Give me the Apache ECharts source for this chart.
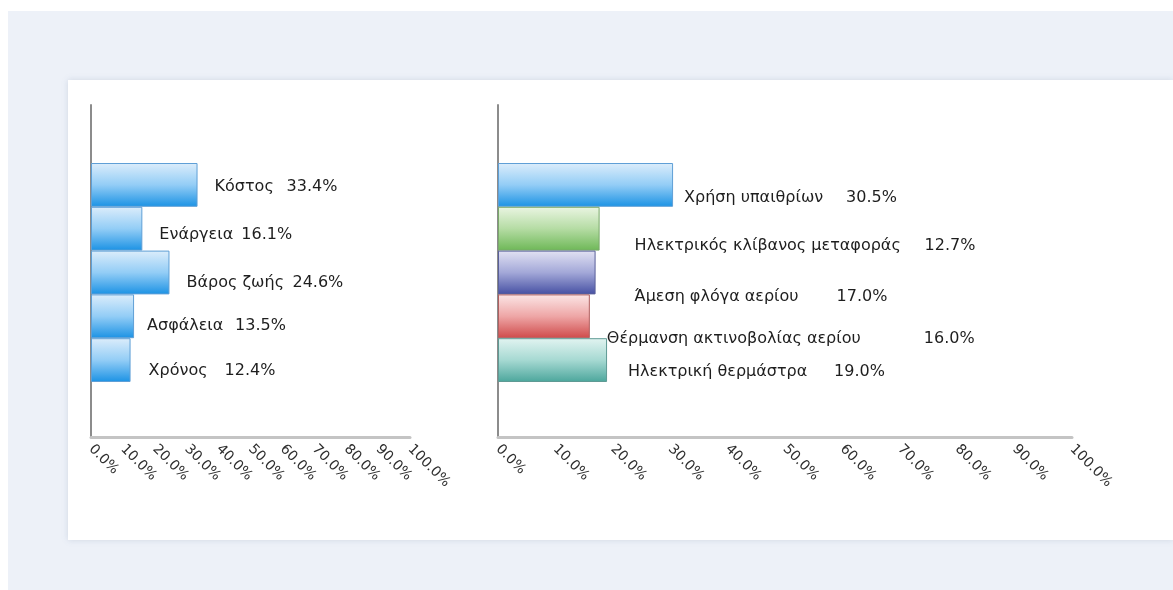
<!DOCTYPE html>
<html>
<head>
<meta charset="utf-8">
<script src="https://cdn.jsdelivr.net/npm/echarts@6/dist/echarts.min.js"></script>
<style>
  html, body { margin: 0; padding: 0; background: #ffffff; }
  #chart { width: 1173px; height: 590px; }
</style>
</head>
<body>
<div id="chart"></div>
<script>
// ---- data ----
const leftCategories = ['Κόστος', 'Ενάργεια', 'Βάρος ζωής', 'Ασφάλεια', 'Χρόνος'];
const leftValues = [33.4, 16.1, 24.6, 13.5, 12.4];

const rightCategories = ['Χρήση υπαιθρίων', 'Ηλεκτρικός κλίβανος μεταφοράς', 'Άμεση φλόγα αερίου', 'Θέρμανση ακτινοβολίας αερίου', 'Ηλεκτρική θερμάστρα'];
const rightValues = [30.5, 17.7, 17.0, 16.0, 19.0];
const rightValueText = ['30.5%', '12.7%', '17.0%', '16.0%', '19.0%'];

const xTickMin = 0, xTickMax = 100, xTickStep = 10;

// ---- styles ----
const FONT = 'DejaVu Sans';
const LABEL_SIZE = 16;
const leftLabelOffsets = [[4, 2], [4, 6], [4, 10], [0, 10], [5, 11]];
const leftNameWidths = [72, 82, 106, 88, 76];
const rightLabelOffsets = [[-2, 13], [22, 17], [26, 24], [4, 23], [8, 12]];
const rightNameWidths = [162, 290, 202, 317, 206];
const palette = [
  { top: '#dcedfb', mid: '#93cdf6', bot: '#1b92e4', border: '#5f9fd6' },
  { top: '#eaf5e2', mid: '#b5dca4', bot: '#6eb857', border: '#7aa86a' },
  { top: '#e2e2f3', mid: '#a3a8d8', bot: '#4650a3', border: '#5a609a' },
  { top: '#fbe6e6', mid: '#eea6a6', bot: '#cf4a4a', border: '#b06060' },
  { top: '#e2f4f1', mid: '#a6d9d2', bot: '#4ca69c', border: '#5f9a94' }
];
function grad(p) {
  return { type: 'linear', x: 0, y: 0, x2: 0, y2: 1,
    colorStops: [{ offset: 0, color: p.top }, { offset: 0.5, color: p.mid }, { offset: 1, color: p.bot }] };
}
function richFor(prefix, widths) {
  const r = { v: { fontFamily: FONT, fontSize: LABEL_SIZE, color: '#1e1e1e' } };
  widths.forEach((w, i) => {
    r[prefix + i] = { width: w, fontFamily: FONT, fontSize: LABEL_SIZE, color: '#1e1e1e' };
  });
  return r;
}

const chart = echarts.init(document.getElementById('chart'), null, { renderer: 'canvas' });

function frameX(gi) {
  return {
    type: 'value', gridIndex: gi, min: xTickMin, max: xTickMax, interval: xTickStep,
    axisLine: { show: true, lineStyle: { color: '#c4c4c4', width: 3 } },
    axisTick: { show: false },
    splitLine: { show: false },
    axisLabel: {
      rotate: -45, margin: 10, color: '#2e2e2e', fontFamily: FONT, fontSize: 14,
      formatter: v => v.toFixed(1) + '%'
    }
  };
}
function frameY(gi) {
  return {
    type: 'category', gridIndex: gi, data: [''],
    axisLine: { show: true, lineStyle: { color: '#8c8c8c', width: 2 } },
    axisTick: { show: false }, axisLabel: { show: false }, splitLine: { show: false }
  };
}
function barX(gi) {
  return { type: 'value', gridIndex: gi, min: xTickMin, max: xTickMax, show: false, splitLine: { show: false } };
}
function barY(gi, cats) {
  return { type: 'category', gridIndex: gi, data: cats, inverse: true, show: false };
}

const leftData = leftValues.map((v, i) => ({
  value: v,
  itemStyle: { color: grad(palette[0]), borderColor: palette[0].border, borderWidth: 1 },
  label: { offset: leftLabelOffsets[i] }
}));
const rightData = rightValues.map((v, i) => ({
  value: v,
  itemStyle: { color: grad(palette[i]), borderColor: palette[i].border, borderWidth: 1 },
  label: { offset: rightLabelOffsets[i] }
}));

const labelBase = {
  show: true, position: 'right', distance: 13,
  color: '#1e1e1e', fontFamily: FONT, fontSize: LABEL_SIZE
};

chart.setOption({
  animation: false,
  backgroundColor: 'transparent',
  graphic: [
    { type: 'rect', z: -20, shape: { x: 8, y: 11, width: 1165, height: 579 }, style: { fill: '#edf1f8' } },
    { type: 'rect', z: -19, shape: { x: 68, y: 80, width: 1105, height: 460 },
      style: { fill: '#ffffff', shadowBlur: 6, shadowColor: 'rgba(120,140,170,0.25)' } }
  ],
  grid: [
    { left: 91, width: 319, top: 105, height: 332 },
    { left: 91, width: 319, top: 163, height: 219 },
    { left: 498, width: 574, top: 105, height: 332 },
    { left: 498, width: 574, top: 163, height: 219 }
  ],
  xAxis: [frameX(0), barX(1), frameX(2), barX(3)],
  yAxis: [frameY(0), barY(1, leftCategories), frameY(2), barY(3, rightCategories)],
  series: [
    {
      type: 'bar', xAxisIndex: 1, yAxisIndex: 1, barCategoryGap: '0%',
      data: leftData,
      label: Object.assign({}, labelBase, {
        rich: richFor('l', leftNameWidths),
        formatter: p => '{l' + p.dataIndex + '|' + leftCategories[p.dataIndex] + '}{v|' +
          leftValues[p.dataIndex].toFixed(1) + '%}'
      })
    },
    {
      type: 'bar', xAxisIndex: 3, yAxisIndex: 3, barCategoryGap: '0%',
      data: rightData,
      label: Object.assign({}, labelBase, {
        rich: richFor('r', rightNameWidths),
        formatter: p => '{r' + p.dataIndex + '|' + rightCategories[p.dataIndex] + '}{v|' +
          rightValueText[p.dataIndex] + '}'
      })
    }
  ]
});
</script>
</body>
</html>
